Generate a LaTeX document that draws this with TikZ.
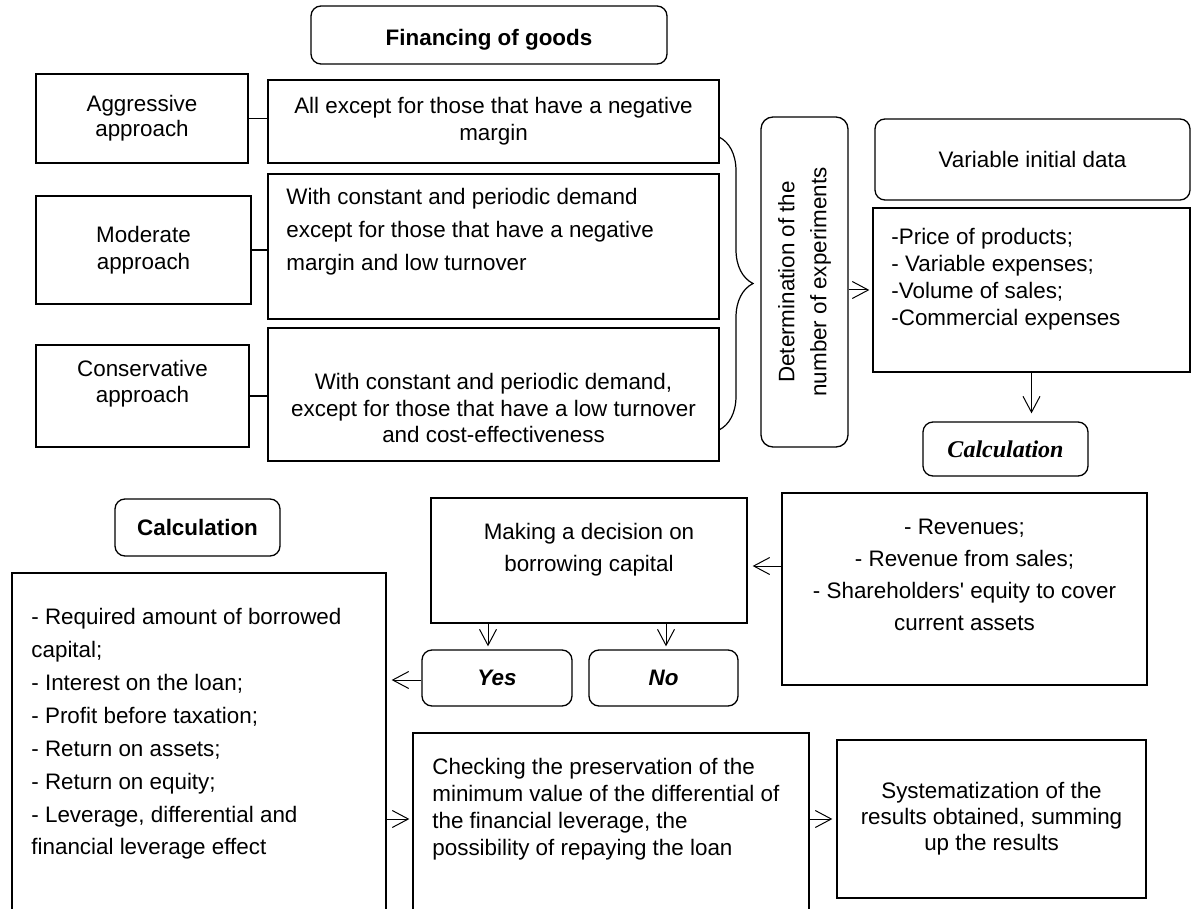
\documentclass[tikz,border=0pt]{standalone}
\usepackage{fontspec}
\setmainfont{Liberation Sans}
\newfontfamily\timesfont{Liberation Serif}
\usetikzlibrary{arrows.meta,fit,decorations.pathreplacing}

\begin{document}
\begin{tikzpicture}[x=0.5pt,y=-0.5pt,
  box/.style={draw,line width=0.65pt,inner sep=0pt},
  rbox/.style={box,rounded corners=5pt},
  txt/.style={inner sep=0pt,align=center,font=\fontsize{11.2}{13.5}\selectfont},
  arr/.style={-{Straight Barb[length=8pt,width=8.5pt]},line width=0.5pt,shorten >=1.5pt},
  link/.style={line width=0.6pt}]
\useasboundingbox (0,0) rectangle (1194,909);
\clip (0,0) rectangle (1194,909);

\node[rbox,fit={(311,6) (667,64)}] (fin) {};
\node[txt,font=\fontsize{11.2}{13.5}\selectfont\bfseries] (fintxt) at (489,40) {Financing of goods};

\node[box,fit={(36,74) (248,163)}] (aggr) {};
\node[txt,font=\fontsize{11.2}{12.5}\selectfont] (aggrtxt) at (aggr) {Aggressive\\approach};
\node[box,fit={(268,80) (719,163)}] (allexc) {};
\node[txt] (allexctxt) at (allexc) {All except for those that have a negative\\margin};
\node[box,fit={(36,196) (251,304)}] (mod) {};
\node[txt] (modtxt) at (mod) {Moderate\\approach};
\node[box,fit={(268,174) (719,319)}] (moddesc) {};
\node[txt,anchor=west,align=left,font=\fontsize{11.2}{16.5}\selectfont] (moddesctxt) at (286,232)
  {With constant and periodic demand\\except for those that have a negative\\margin and low turnover};
\node[box,fit={(36,345) (249,447)}] (cons) {};
\node[txt,font=\fontsize{11.2}{13}\selectfont] (constxt) at (142.5,384) {Conservative\\approach};
\node[box,fit={(268,328) (719,461)}] (consdesc) {};
\node[txt,font=\fontsize{11.2}{13.2}\selectfont] (consdesctxt) at (493.5,408)
  {With constant and periodic demand,\\except for those that have a low turnover\\and cost-effectiveness};

\draw[link] (aggr.east) -- (aggr.east -| allexc.west);
\draw[link] (mod.east) -- (mod.east -| moddesc.west);
\draw[link] (cons.east) -- (cons.east -| consdesc.west);

\coordinate (bracetop) at (719,137);
\coordinate (bracebot) at (719,430);
\draw[link,decorate,decoration={brace,amplitude=17pt}] (bracetop) -- (bracebot);

\node[rbox,rounded corners=6pt,fit={(761,117) (848,447)}] (det) {};
\node[txt,rotate=90,font=\fontsize{11.2}{16}\selectfont] (dettxt) at (det) {Determination of the\\number of experiments};

\node[rbox,fit={(875,119) (1190,200)}] (vid) {};
\node[txt] (vidtxt) at (vid) {Variable initial data};
\node[box,fit={(873,208) (1190,372)}] (list) {};
\node[txt,anchor=west,align=left] (listtxt) at (891,279)
  {-Price of products;\\- Variable expenses;\\-Volume of sales;\\-Commercial expenses};
\draw[arr] (det.east |- 0,290) -- (list.west |- 0,290);

\node[rbox,fit={(923,422) (1088,476)}] (calc2) {};
\node[txt,font=\fontsize{12}{14}\timesfont\bfseries\itshape] (calc2txt) at (calc2) {Calculation};
\draw[arr,shorten >=4pt] (list.south) -- (list.south |- calc2.north);

\node[box,fit={(782,493) (1147,685)}] (rev) {};
\node[txt,font=\fontsize{11.2}{16}\selectfont] (revtxt) at (964.5,575)
  {- Revenues;\\- Revenue from sales;\\- Shareholders\textquotesingle{} equity to cover\\current assets};

\node[box,fit={(431,498) (747,623)}] (dec) {};
\node[txt,font=\fontsize{11.2}{16}\selectfont] (dectxt) at (589,550) {Making a decision on\\borrowing capital};
\draw[arr,shorten >=2.5pt] (rev.west |- 0,566) -- (dec.east |- 0,566);

\node[rbox,fit={(422,650) (572,706)}] (yes) {};
\node[txt,font=\fontsize{11.2}{13.5}\selectfont\bfseries\itshape] (yestxt) at (yes) {Yes};
\node[rbox,fit={(589,650) (738,706)}] (no) {};
\node[txt,font=\fontsize{11.2}{13.5}\selectfont\bfseries\itshape] (notxt) at (no) {No};
\draw[arr] (dec.south -| 488,0) -- (yes.north -| 488,0);
\draw[arr] (dec.south -| 666,0) -- (no.north -| 666,0);

\node[rbox,fit={(115,499) (280,556)}] (calc1) {};
\node[txt,font=\fontsize{11.2}{13.5}\selectfont\bfseries] (calc1txt) at (calc1) {Calculation};

\node[box,fit={(12,573) (386,940)}] (res) {};
\node[txt,anchor=west,align=left,font=\fontsize{11.2}{16.45}\selectfont] (restxt) at (31,734)
  {- Required amount of borrowed\\capital;\\- Interest on the loan;\\- Profit before taxation;\\- Return on assets;\\- Return on equity;\\- Leverage, differential and\\financial leverage effect};
\draw[arr,shorten >=2.5pt] (yes.west |- 0,680) -- (res.east |- 0,680);

\node[box,fit={(837,740) (1146,898)}] (sys) {};
\node[txt,font=\fontsize{11.2}{13}\selectfont] (systxt) at (sys) {Systematization of the\\results obtained, summing\\up the results};
\node[box,fit={(413,733) (809,940)}] (check) {};
\node[txt,anchor=west,align=left] (checktxt) at (432,809)
  {Checking the preservation of the\\minimum value of the differential of\\the financial leverage, the\\possibility of repaying the loan};
\draw[arr] (res.east |- sys.west) -- (check.west |- sys.west);
\draw[arr,shorten >=2pt] (check.east |- sys.west) -- (sys.west);
\end{tikzpicture}
\end{document}
